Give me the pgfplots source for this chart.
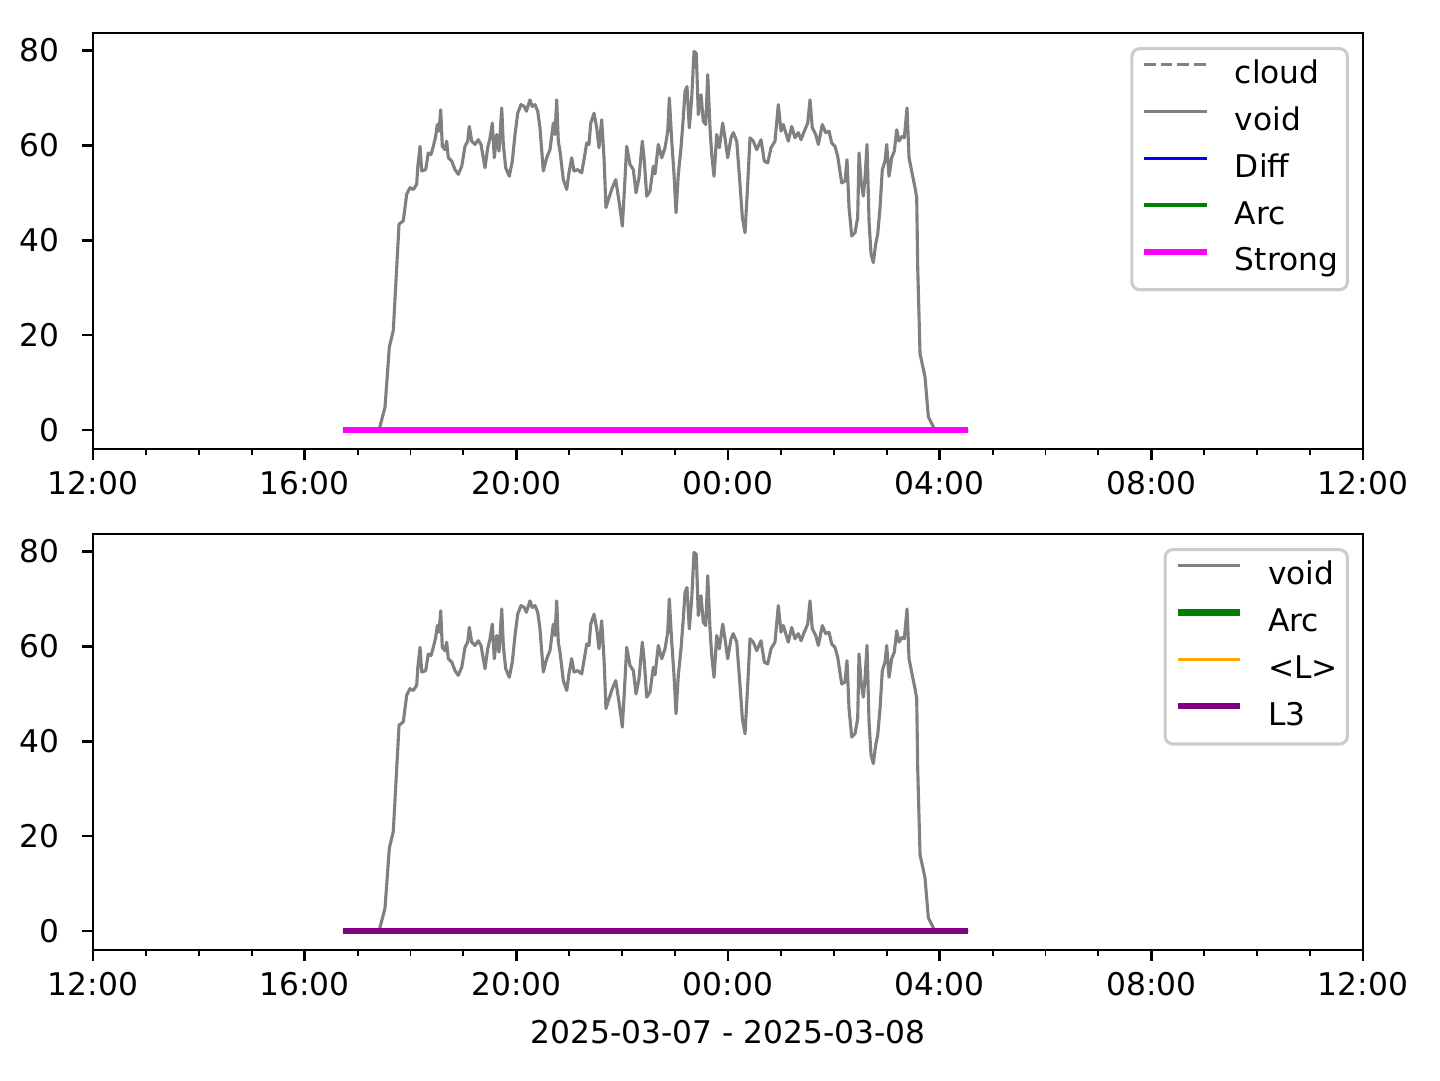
\documentclass[border=0pt]{standalone}
\usepackage{fontspec}
\setmainfont{DejaVu Sans}
\usepackage{pgfplots}
\usepackage{pgfplotstable}
\pgfplotsset{compat=1.18}

% hours after 12:00 on 2025-03-07, value
\pgfplotstableread{
h v
4.724 0
5.405 0
5.518 4.8
5.600 17.5
5.675 21.0
5.770 40.6
5.783 43.4
5.864 44.1
5.928 49.7
5.991 51.1
6.053 50.7
6.117 51.8
6.136 55.3
6.180 59.8
6.212 54.6
6.287 54.9
6.336 58.4
6.388 58.1
6.431 59.8
6.476 61.9
6.507 64.4
6.539 63.0
6.571 67.5
6.601 59.8
6.652 59.1
6.684 60.9
6.714 57.4
6.779 56.7
6.841 54.9
6.903 53.9
6.968 55.6
7.030 59.8
7.081 60.9
7.111 64.0
7.157 60.9
7.219 60.2
7.281 61.2
7.332 60.2
7.365 58.1
7.408 55.3
7.459 59.5
7.503 61.6
7.546 64.7
7.584 57.4
7.629 62.3
7.673 58.8
7.724 67.9
7.754 60.2
7.799 55.3
7.867 53.5
7.924 56.7
7.975 62.3
8.026 66.8
8.088 68.6
8.151 68.2
8.190 67.2
8.258 69.6
8.302 68.2
8.353 68.6
8.404 67.2
8.447 63.7
8.510 54.6
8.574 57.4
8.636 59.1
8.699 64.7
8.731 62.3
8.763 69.6
8.793 60.9
8.825 58.8
8.888 52.8
8.952 50.7
8.995 54.2
9.046 57.4
9.090 54.6
9.160 54.9
9.235 54.2
9.285 57.4
9.330 60.5
9.373 60.2
9.406 64.7
9.468 66.8
9.519 63.7
9.562 59.5
9.613 65.4
9.657 57.4
9.694 46.9
9.751 49.0
9.814 51.1
9.878 52.8
9.940 48.3
10.003 43.0
10.041 50.4
10.086 59.8
10.148 56.0
10.211 54.9
10.262 50.0
10.318 53.2
10.381 60.9
10.419 56.7
10.464 49.3
10.526 50.4
10.589 55.6
10.621 54.0
10.683 60.2
10.747 57.4
10.810 59.5
10.861 63.0
10.891 70.0
10.937 60.9
10.980 53.9
11.018 45.8
11.061 53.9
11.112 59.5
11.155 65.8
11.188 71.4
11.225 72.4
11.269 63.7
11.314 70.0
11.358 79.8
11.401 79.4
11.439 66.5
11.490 70.7
11.533 65.1
11.579 64.4
11.617 74.9
11.660 63.7
11.692 58.1
11.736 53.5
11.787 62.3
11.836 59.5
11.900 64.7
11.943 61.6
11.994 57.4
12.057 61.6
12.100 62.7
12.165 60.9
12.227 51.8
12.271 44.8
12.322 41.6
12.372 51.8
12.416 61.6
12.478 60.9
12.543 59.1
12.624 61.2
12.686 56.7
12.750 56.3
12.813 59.5
12.888 60.9
12.951 68.6
13.002 63.0
13.045 64.4
13.139 60.9
13.204 64.0
13.266 61.6
13.329 62.7
13.380 61.2
13.442 63.0
13.506 64.7
13.550 69.6
13.593 63.7
13.658 62.3
13.707 60.2
13.782 64.4
13.846 62.7
13.909 63.0
13.960 60.5
14.022 59.8
14.073 57.7
14.149 52.1
14.211 52.5
14.249 57.0
14.287 46.9
14.338 40.9
14.400 41.6
14.451 44.8
14.476 58.4
14.514 52.5
14.557 49.3
14.589 53.2
14.627 60.2
14.665 44.1
14.703 37.1
14.746 35.3
14.791 39.2
14.829 41.3
14.873 46.9
14.916 54.9
14.967 56.7
14.999 60.2
15.043 53.5
15.093 57.4
15.143 58.8
15.188 63.3
15.232 60.9
15.283 61.9
15.332 61.6
15.383 67.9
15.421 57.4
15.483 53.9
15.534 51.1
15.566 49.0
15.585 34.3
15.629 16.1
15.723 11.2
15.786 2.8
15.880 0.7
15.912 0
16.542 0
}\voiddata

% flat series
\pgfplotstableread{
h v
4.724 0
16.542 0
}\zerodata

\definecolor{mgray}{HTML}{808080}
\definecolor{mblue}{HTML}{0000FF}
\definecolor{mgreen}{HTML}{008000}
\definecolor{mmagenta}{HTML}{FF00FF}
\definecolor{morange}{HTML}{FFA500}
\definecolor{mpurple}{HTML}{800080}

\pgfplotsset{
  panel/.style={
    scale only axis,
    width=406.4pt, height=133.1pt,
    xmin=0, xmax=24,
    ymin=-3.985, ymax=83.685,
    xtick={0,4,8,12,16,20,24},
    xticklabels={12:00,16:00,20:00,00:00,04:00,08:00,12:00},
    minor x tick num=3,
    ytick={0,20,40,60,80},
    tick pos=left,
    tick align=outside,
    axis line style={line width=0.8pt},
    major tick length=3.5pt,
    minor tick length=2pt,
    every major tick/.style={line width=0.8pt, black},
    every minor tick/.style={line width=0.6pt, black},
    /pgf/number format/assume math mode=true,
    ticklabel style={font=\fontsize{10}{12}\selectfont},
    xticklabel style={inner sep=0pt, yshift=-3.4pt},
    yticklabel style={inner sep=0pt, xshift=-7pt},
    legend cell align=left,
    legend image code/.code={\draw[#1, line cap=butt] (0pt,3.5pt) -- (20pt,3.5pt);},
    legend style={
      at={(rel axis cs:1,1)}, anchor=north east,
      xshift=-4.5pt, yshift=-4.5pt,
      draw=black!20, line width=1pt, rounded corners=2.5pt,
      fill=white,
      inner xsep=3pt, inner ysep=3.8pt,
      row sep=5.26pt, column sep=8pt,
      font=\fontsize{10}{12}\selectfont,
      nodes={inner sep=0pt, text height=7.5pt, text depth=2.2pt},
    },
    every axis plot/.append style={line join=round},
  },
}

\begin{document}
\begin{tikzpicture}
\path[use as bounding box] (0,0) rectangle (460.8pt,345.6pt);

\begin{axis}[panel, at={(29.76pt,201.92pt)}, anchor=south west]
  \addlegendimage{mgray, line width=1pt, dash pattern=on 3.7pt off 1.6pt}
  \addlegendentry{cloud}
  \addplot[mgray, line width=1pt] table[x=h, y=v] {\voiddata};
  \addlegendentry{void}
  \addplot[mblue, line width=1pt] table[x=h, y=v] {\zerodata};
  \addlegendentry{Diff}
  \addplot[mgreen, line width=1pt] table[x=h, y=v] {\zerodata};
  \addlegendentry{Arc}
  \addplot[mmagenta, line width=2pt] table[x=h, y=v] {\zerodata};
  \addlegendentry{Strong}
\end{axis}

\begin{axis}[panel, at={(29.76pt,41.6pt)}, anchor=south west,
  xlabel={2025-03-07 - 2025-03-08},
  xlabel style={font=\fontsize{10}{12}\selectfont, inner sep=0pt, yshift=-7.6pt}]
  \addplot[mgray, line width=1pt] table[x=h, y=v] {\voiddata};
  \addlegendentry{void}
  \addplot[mgreen, line width=2pt] table[x=h, y=v] {\zerodata};
  \addlegendentry{Arc}
  \addplot[morange, line width=1pt] table[x=h, y=v] {\zerodata};
  \addlegendentry{<L>}
  \addplot[mpurple, line width=2pt] table[x=h, y=v] {\zerodata};
  \addlegendentry{L3}
\end{axis}
\end{tikzpicture}
\end{document}
